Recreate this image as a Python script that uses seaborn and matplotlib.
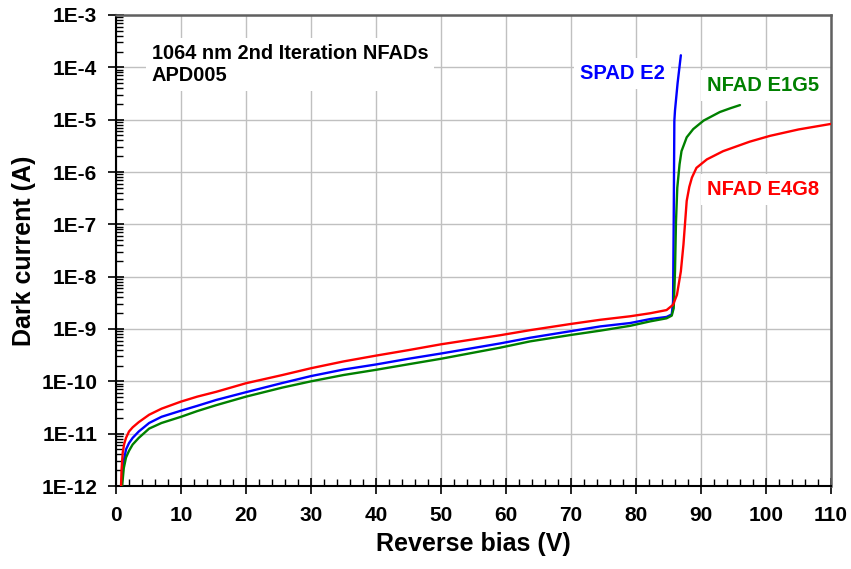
import numpy as np
import pandas as pd
import matplotlib
matplotlib.use("Agg")
import matplotlib.pyplot as plt
import matplotlib.ticker as mticker
import seaborn as sns

# ---- data ----
red_v = [0.72, 0.85, 1.03, 1.25, 1.54, 2.0, 2.56, 3.5, 5.1, 7.0, 10, 12.5, 15.4, 20, 25.6, 30, 35,
         40, 45, 50, 59.1, 63.7, 70, 74.5, 79.1, 82.2, 84.7, 85.7, 86.3, 86.9, 87.3, 87.8, 88.2,
         88.6, 89.3, 90.9, 93.4, 97.5, 100.6, 105, 110]
red_i = [6e-13, 2e-12, 4.3e-12, 6.3e-12, 8.3e-12, 1.1e-11, 1.32e-11, 1.66e-11, 2.3e-11, 3.0e-11,
         4.1e-11, 5.1e-11, 6.3e-11, 9.2e-11, 1.32e-10, 1.78e-10, 2.4e-10, 3.1e-10, 3.95e-10,
         5.1e-10, 7.6e-10, 9.5e-10, 1.25e-9, 1.5e-9, 1.75e-9, 2.0e-9, 2.3e-9, 2.9e-9, 4.5e-9,
         1.26e-8, 4.1e-8, 2.8e-7, 5.2e-7, 7.8e-7, 1.2e-6, 1.74e-6, 2.5e-6, 3.8e-6, 4.9e-6, 6.5e-6,
         8.3e-6]

blue_v = [0.8, 0.95, 1.15, 1.54, 2.0, 2.56, 3.5, 5.1, 7.0, 10, 12.5, 15.4, 20, 25.6, 30, 35, 40, 45,
          50, 59.1, 63.7, 70, 74.5, 79.1, 82.2, 84.7, 85.5, 85.7, 85.8, 85.9, 86.0, 86.4, 86.9]
blue_i = [6e-13, 1.5e-12, 2.8e-12, 5e-12, 6.6e-12, 8.3e-12, 1.1e-11, 1.6e-11, 2.1e-11, 2.75e-11,
          3.4e-11, 4.4e-11, 6.2e-11, 9.3e-11, 1.26e-10, 1.68e-10, 2.1e-10, 2.7e-10, 3.4e-10,
          5.3e-10, 6.8e-10, 9.1e-10, 1.12e-9, 1.3e-9, 1.55e-9, 1.7e-9, 1.9e-9, 3.3e-9, 1.1e-7,
          9.5e-6, 1.5e-5, 5e-5, 1.7e-4]

green_v = [0.85, 1.0, 1.2, 1.54, 2.0, 2.56, 3.5, 5.1, 7.0, 10, 12.5, 15.4, 20, 25.6, 30, 35, 40, 45,
           50, 59.1, 63.7, 70, 74.5, 79.1, 82.2, 84.7, 85.5, 85.8, 86.0, 86.15, 86.35, 86.7, 87.0,
           87.8, 88.8, 90.4, 92.9, 94.5, 96]
green_i = [6e-13, 1.2e-12, 2.2e-12, 3.5e-12, 4.7e-12, 6.2e-12, 8.3e-12, 1.25e-11, 1.6e-11, 2.1e-11,
           2.7e-11, 3.5e-11, 5.1e-11, 7.6e-11, 1.0e-10, 1.32e-10, 1.66e-10, 2.12e-10, 2.7e-10,
           4.4e-10, 5.8e-10, 7.7e-10, 9.3e-10, 1.15e-9, 1.4e-9, 1.6e-9, 1.8e-9, 2.5e-9, 1.26e-8,
           1.1e-7, 5e-7, 1.4e-6, 2.5e-6, 4.6e-6, 6.6e-6, 9.6e-6, 1.4e-5, 1.65e-5, 1.9e-5]

series_names = ["SPAD E2", "NFAD E1G5", "NFAD E4G8"]
series_colors = ["#0000FF", "#008000", "#FF0000"]
title_text = "1064 nm 2nd Iteration NFADs\nAPD005"
x_label = "Reverse bias (V)"
y_label = "Dark current (A)"
x_ticks = list(range(0, 111, 10))
y_ticks = [1e-12, 1e-11, 1e-10, 1e-9, 1e-8, 1e-7, 1e-6, 1e-5, 1e-4, 1e-3]

df = pd.concat([
    pd.DataFrame({"V": blue_v, "I": blue_i, "dev": series_names[0]}),
    pd.DataFrame({"V": green_v, "I": green_i, "dev": series_names[1]}),
    pd.DataFrame({"V": red_v, "I": red_i, "dev": series_names[2]}),
], ignore_index=True)

sns.set_theme(style="white")
plt.rcParams["font.family"] = ["Liberation Sans", "DejaVu Sans"]
plt.rcParams["font.weight"] = "bold"
plt.rcParams["axes.labelweight"] = "bold"
plt.rcParams["axes.labelcolor"] = "black"
plt.rcParams["text.color"] = "black"

fig = plt.figure(figsize=(8.51, 5.69), dpi=100)
ax = fig.add_axes([116 / 851, 1 - 486 / 569, 715 / 851, 471 / 569])

sns.lineplot(data=df, x="V", y="I", hue="dev", hue_order=series_names,
             palette=series_colors, estimator=None, sort=False, linewidth=1.7,
             legend=False, ax=ax, zorder=3)

ax.set_yscale("log")
ax.set_xlim(0, 110)
ax.set_ylim(1e-12, 1e-3)

ax.xaxis.set_major_locator(mticker.FixedLocator(x_ticks))
ax.xaxis.set_minor_locator(mticker.MultipleLocator(2))
ax.yaxis.set_major_locator(mticker.FixedLocator(y_ticks))
ax.yaxis.set_minor_locator(mticker.LogLocator(base=10, subs=np.arange(2, 10), numticks=20))
ax.yaxis.set_major_formatter(mticker.FuncFormatter(lambda v, p: "1E%d" % int(round(np.log10(v)))))
ax.yaxis.set_minor_formatter(mticker.NullFormatter())

ax.grid(True, which="major", color="#c0c0c0", linewidth=1.0)
ax.set_axisbelow(True)

ax.tick_params(axis="both", which="major", direction="inout", length=11, width=1.2,
               color="black", labelsize=15, labelcolor="black")
ax.tick_params(axis="x", which="major", pad=9)
ax.tick_params(axis="y", which="major", pad=8)
ax.tick_params(axis="both", which="minor", direction="in", length=5, width=1.0, color="black")
ax.tick_params(axis="both", which="both", bottom=True, left=True, top=False, right=False)

for s in ["left", "bottom"]:
    ax.spines[s].set_color("black")
    ax.spines[s].set_linewidth(1.5)
for s in ["top", "right"]:
    ax.spines[s].set_color("#606060")
    ax.spines[s].set_linewidth(1.8)

ax.set_xlabel(x_label, fontsize=18, fontweight="bold", labelpad=5, color="black")
ax.set_ylabel(y_label, fontsize=18, fontweight="bold", labelpad=4, color="black")

box = dict(boxstyle="square,pad=0.3", facecolor="white", edgecolor="none")
ax.text(0.050, 0.938, title_text, transform=ax.transAxes, ha="left", va="top",
        fontsize=14.4, fontweight="bold", color="black", linespacing=1.2, bbox=box, zorder=4)

ax.text(71.4, 10 ** -4.115, series_names[0], ha="left", va="center", fontsize=14.5,
        fontweight="bold", color=series_colors[0], bbox=box, zorder=4)
ax.text(90.9, 10 ** -4.35, series_names[1], ha="left", va="center", fontsize=14.5,
        fontweight="bold", color=series_colors[1], bbox=box, zorder=4)
ax.text(90.9, 10 ** -6.33, series_names[2], ha="left", va="center", fontsize=14.5,
        fontweight="bold", color=series_colors[2], bbox=box, zorder=4)

fig.savefig("out.png", dpi=100)
